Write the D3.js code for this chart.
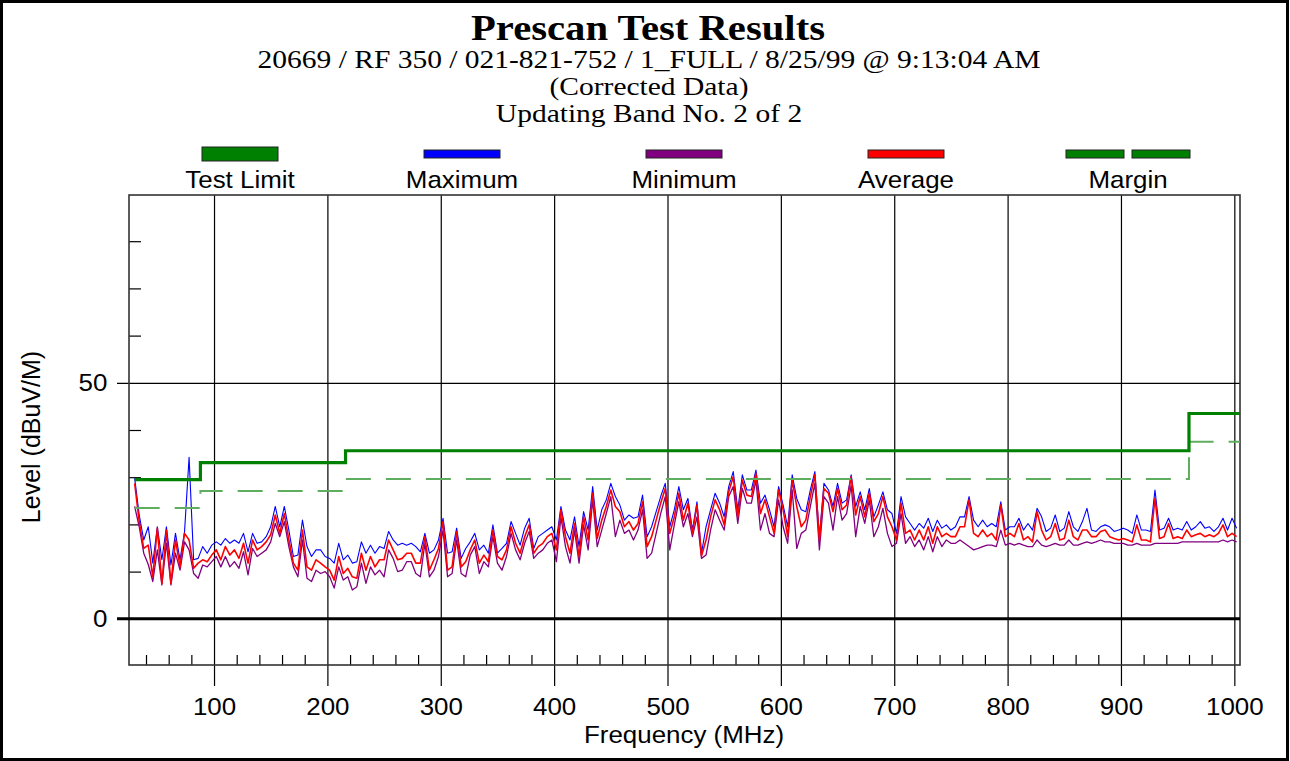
<!DOCTYPE html>
<html>
<head>
<meta charset="utf-8">
<script src="https://cdn.jsdelivr.net/npm/d3@7"></script>
<style>
  html, body { margin: 0; padding: 0; background: #fff; }
  svg { display: block; }
</style>
</head>
<body>
<svg id="chart" width="1290" height="761"></svg>
<script>
// ---------------- DATA ----------------
const titleText = "Prescan Test Results";
const subtitleLines = [
  "20669 / RF 350 / 021-821-752 / 1_FULL / 8/25/99 @ 9:13:04 AM",
  "(Corrected Data)",
  "Updating Band No. 2 of 2"
];
const legendNames = ["Test Limit", "Maximum", "Minimum", "Average", "Margin"];
const legendColors = ["#008000", "#0000ff", "#800080", "#ff0000", "#008000"];
const xTickLabels = [100, 200, 300, 400, 500, 600, 700, 800, 900, 1000];
const xMinorTicks = [40, 60, 80, 120, 140, 160, 180, 220, 240, 260, 280, 320, 340, 360, 380,
  420, 440, 460, 480, 520, 540, 560, 580, 620, 640, 660, 680, 720, 740, 760, 780,
  820, 840, 860, 880, 920, 940, 960, 980];
const yTickLabels = [0, 50];
const yMinorTicks = [10, 20, 30, 40, 60, 70, 80];
const xTitle = "Frequency (MHz)";
const yTitle = "Level (dBuV/M)";

// Limit (FCC class B @10 m) and margin (limit - 6 dB), step after each frequency
const limitFreq = [30, 88, 216, 960, 1005];
const limitVal = [29.5, 33.1, 35.6, 43.5, 43.5];
const marginVal = [23.5, 27.1, 29.6, 37.5, 37.5];

// Scan frequencies (MHz)
const freqs = [30,34,38,42,46,50,54,58,62,66,70,74,78,82,86,90,94,98,102,106,110,114,118,122,126,130,134,138,142,146,150,154,158,162,166,170,174,178,182,186,190,194,198,202,206,210,214,218,222,226,230,234,238,242,246,250,254,258,262,266,270,
274,278,282,286,290,294,298,302,306,310,314,318,322,326,330,334,338,342,346,350,354,358,362,366,370,374,378,382,386,390,394,398,402,406,410,414,418,422,426,430,434,438,442,446,450,454,458,462,466,470,474,478,482,486,490,494,498,502,506,510,514,
518,522,526,530,534,538,542,546,550,554,558,562,566,570,574,578,582,586,590,594,598,602,606,610,614,618,622,626,630,634,638,642,646,650,654,658,662,666,670,674,678,682,686,690,694,698,702,706,710,714,718,722,726,730,734,738,742,746,750,754,758,
762,766,770,774,778,782,786,790,794,798,802,806,810,814,818,822,826,830,834,838,842,846,850,854,858,862,866,870,874,878,882,886,890,894,898,902,906,910,914,918,922,926,930,934,938,942,946,950,954,958,962,966,970,974,978,982,986,990,994,998,1002];

// Maximum (dBuV/m)
const maxVals = [29.8,22.0,16.7,19.5,11.8,19.5,12.5,19.5,11.4,18.1,12.5,18.5,34.2,12.5,12.8,15.3,13.9,15.6,16.3,15.6,17.0,16.0,16.7,16.0,18.1,14.2,18.1,16.0,16.3,17.4,19.5,23.8,19.5,23.8,18.8,13.2,13.5,20.9,15.3,13.2,14.6,14.6,13.2,12.8,11.8,16.0,12.5,13.5,11.8,12.1,16.3,13.9,15.6,13.9,15.3,14.9,18.5,16.7,15.6,16.0,15.6,
16.0,15.3,14.2,18.1,13.9,14.6,16.7,21.3,13.9,14.2,19.2,12.8,14.9,16.3,18.1,14.6,15.6,13.9,19.9,13.9,14.9,16.0,20.6,18.1,15.6,19.2,21.3,14.9,17.4,18.1,18.8,19.5,16.7,23.8,18.8,16.7,21.6,15.3,22.7,18.8,28.0,18.8,23.1,25.2,28.7,25.9,24.1,20.9,22.0,21.3,21.6,26.2,17.4,19.5,22.7,25.9,28.7,19.5,23.1,28.0,23.1,
25.5,18.8,24.8,13.9,19.5,23.1,26.6,24.5,21.6,28.0,31.2,23.1,30.5,27.3,27.3,31.5,24.5,26.2,23.1,19.5,28.0,24.1,19.5,30.5,25.5,23.1,22.7,27.3,31.2,17.4,28.7,27.3,23.8,28.7,24.5,25.2,30.5,23.8,26.9,23.1,27.6,21.6,24.1,26.9,23.1,22.3,18.1,25.9,21.6,20.2,18.8,20.2,19.2,21.3,18.5,20.9,19.2,19.9,18.8,19.5,21.6,
21.6,25.9,20.9,19.5,20.9,19.5,20.2,19.5,24.8,18.8,19.5,19.5,21.3,18.8,20.2,18.8,23.4,21.6,18.5,19.2,22.0,18.5,19.2,22.7,19.5,18.5,20.6,23.4,18.8,18.5,19.5,19.9,19.5,18.5,18.8,19.2,18.8,18.1,22.0,18.8,18.8,18.5,27.3,18.8,19.2,21.3,18.8,19.2,18.8,20.6,18.8,19.5,20.6,19.2,19.5,18.5,19.5,21.3,18.8,21.3,19.2];

// Average (dBuV/m)
const avgVals = [28.7,20.6,14.9,15.6,8.9,19.2,7.5,18.8,7.5,16.7,11.0,18.1,16.7,10.7,11.8,12.5,12.1,13.5,14.6,12.5,15.3,13.5,14.6,12.8,16.0,11.8,16.7,14.6,15.3,16.3,17.8,22.0,18.1,22.3,16.7,11.8,10.3,18.8,11.0,10.3,12.5,11.8,11.0,10.3,8.2,13.2,9.6,10.7,8.9,8.6,13.9,10.3,13.2,11.0,12.5,12.5,16.7,14.6,12.5,12.8,13.9,
13.9,11.8,11.8,17.4,10.3,12.5,14.9,20.6,10.3,11.0,18.5,11.0,12.1,14.6,16.7,11.8,13.5,12.1,18.8,13.2,12.5,14.6,19.5,16.0,13.9,17.4,19.9,13.9,15.3,16.0,17.4,18.1,14.6,23.1,17.4,13.9,20.2,13.2,21.6,16.7,26.6,17.0,20.9,23.8,27.3,23.8,22.7,19.5,20.6,18.8,20.2,24.8,15.3,17.4,20.9,24.5,27.6,18.1,21.6,26.6,20.9,
24.5,18.1,24.1,13.3,16.7,21.6,25.2,23.1,19.9,26.9,30.1,21.6,29.4,26.2,25.9,30.8,22.3,25.2,21.6,18.1,27.3,23.1,17.4,29.4,23.8,19.5,20.9,25.9,30.5,16.7,27.6,26.6,22.7,27.6,23.1,24.1,30.1,22.0,25.9,21.6,26.6,20.6,22.3,25.9,21.6,19.5,16.7,24.5,18.1,18.8,16.7,18.8,16.7,19.5,16.0,19.5,17.4,18.1,17.4,17.4,19.5,
19.5,25.2,18.1,17.4,18.8,17.4,18.1,16.7,24.1,17.4,18.1,17.4,20.2,16.7,17.4,16.3,22.7,18.8,16.7,17.4,20.2,16.7,17.0,20.9,17.4,16.7,18.8,18.8,17.4,17.4,18.5,18.8,17.4,17.0,16.7,17.0,16.7,16.3,19.9,16.7,16.7,16.3,25.5,17.0,17.4,20.2,17.0,17.4,17.0,18.8,17.4,17.8,18.1,17.4,17.8,17.4,18.1,19.9,17.4,18.1,17.4];

// Minimum (dBuV/m)
const minVals = [23.8,19.5,13.9,11.5,7.9,14.6,7.2,16.0,7.2,13.9,10.3,16.3,14.6,9.6,8.6,11.4,11.0,12.1,13.2,11.0,13.2,11.0,12.1,10.7,14.2,9.3,14.9,13.2,13.9,14.6,16.3,20.2,17.4,20.6,15.3,11.0,8.9,16.7,8.6,7.9,10.3,9.6,10.0,8.9,6.5,11.0,8.2,8.9,6.1,6.8,11.8,7.5,11.0,9.3,10.3,8.9,14.6,12.8,10.0,10.3,12.1,
12.1,9.6,8.9,16.0,8.9,10.3,13.2,18.8,8.9,9.6,16.7,9.6,8.9,13.5,15.3,9.6,12.1,11.0,17.4,11.8,10.3,13.2,18.1,14.6,12.5,16.0,18.5,12.8,13.9,14.6,16.0,16.7,12.1,21.6,15.3,11.8,18.8,11.8,19.9,14.6,25.2,15.3,18.8,22.3,25.9,17.4,20.9,18.1,18.8,16.7,18.8,23.1,12.8,13.9,18.1,22.3,25.9,14.6,19.9,24.8,19.5,
22.3,17.4,21.6,12.8,13.5,18.8,23.1,20.9,18.8,25.9,28.0,20.2,27.6,24.5,24.5,29.4,18.8,22.3,18.1,17.4,25.2,19.5,16.0,27.3,14.9,18.1,18.8,23.8,28.7,14.6,25.9,24.5,18.8,25.9,20.9,22.3,28.3,17.4,23.8,20.2,25.2,17.4,19.5,23.4,18.1,15.3,16.0,22.3,16.0,17.4,15.3,16.7,14.6,17.4,14.2,17.4,15.3,16.7,16.0,16.0,16.7,
16.0,15.3,14.6,14.9,15.3,15.6,15.6,15.3,18.8,15.6,16.0,15.6,16.0,15.6,15.3,15.3,16.7,15.6,15.3,15.6,16.0,15.6,15.6,16.7,15.6,15.6,16.0,16.3,16.0,16.3,16.7,16.3,16.3,16.0,16.0,16.0,15.6,15.6,16.0,15.6,15.6,15.6,16.0,16.0,16.0,16.0,16.0,16.0,16.3,16.3,16.3,16.3,16.3,16.3,16.3,16.3,16.3,16.7,16.3,16.7,16.3];

// ---------------- DRAW ----------------
const svg = d3.select("#chart");
const W = 1290, H = 761;
const plot = { left: 129, right: 1240, top: 195, bottom: 665 };

const x = d3.scaleLinear().domain([25, 1005]).range([plot.left, plot.right]);
const y = d3.scaleLinear().domain([-10, 90]).range([666, 194]);

const serif = "'Liberation Serif', 'Times New Roman', serif";
const sans = "'Liberation Sans', Arial, sans-serif";
const sansStretch = 1.08;

svg.append("rect").attr("x", 0).attr("y", 0).attr("width", W).attr("height", H).attr("fill", "#fff");

// Outer border
svg.append("rect").attr("x", 1.5).attr("y", 1.5).attr("width", W - 4).attr("height", H - 3)
  .attr("fill", "none").attr("stroke", "#000").attr("stroke-width", 3);

// Titles (original output uses horizontally widened glyphs)
svg.append("text").attr("transform", "translate(648,40) scale(1.13,1)").attr("text-anchor", "middle")
  .attr("font-family", serif).attr("font-weight", "bold").attr("font-size", 36).text(titleText);
const subY = [68, 95, 122];
subtitleLines.forEach((t, i) => {
  svg.append("text").attr("transform", `translate(649,${subY[i]}) scale(1.18,1)`).attr("text-anchor", "middle")
    .attr("font-family", serif).attr("font-size", 25).text(t);
});

// Legend
const legendCx = [240, 462, 684, 906, 1128];
legendNames.forEach((name, i) => {
  const cx = legendCx[i];
  const g = svg.append("g");
  if (i === 0) {
    g.append("rect").attr("x", cx - 38).attr("y", 147).attr("width", 76).attr("height", 14)
      .attr("fill", legendColors[i]).attr("stroke", "#222").attr("stroke-width", 1);
  } else if (i === 4) {
    [-62, 4].forEach(dx => {
      g.append("rect").attr("x", cx + dx).attr("y", 150).attr("width", 58).attr("height", 8)
        .attr("fill", legendColors[i]).attr("stroke", "#222").attr("stroke-width", 1);
    });
  } else {
    g.append("rect").attr("x", cx - 38).attr("y", 150).attr("width", 76).attr("height", 8)
      .attr("fill", legendColors[i]).attr("stroke", "#222").attr("stroke-width", 1);
  }
  g.append("text").attr("transform", `translate(${cx},188) scale(${sansStretch},1)`).attr("text-anchor", "middle")
    .attr("font-family", sans).attr("font-size", 24).text(name);
});

// Vertical grid lines (from top frame down to the major tick ends)
svg.append("g").attr("transform", `translate(0,${plot.top})`)
  .call(d3.axisBottom(x).tickValues(xTickLabels).tickSize(686 - plot.top).tickFormat(""))
  .call(g => g.select(".domain").remove())
  .call(g => g.selectAll("line").attr("stroke", "#000").attr("stroke-width", 1.2));

// Horizontal grid at 50
svg.append("g").attr("transform", `translate(${plot.right},0)`)
  .call(d3.axisLeft(y).tickValues([50]).tickSize(plot.right - 117).tickFormat(""))
  .call(g => g.select(".domain").remove())
  .call(g => g.selectAll("line").attr("stroke", "#000").attr("stroke-width", 1.2));

// Minor x ticks (inside, from bottom frame upward)
svg.append("g").attr("transform", `translate(0,${plot.bottom})`)
  .call(d3.axisBottom(x).tickValues(xMinorTicks).tickSize(-10).tickFormat(""))
  .call(g => g.select(".domain").remove())
  .call(g => g.selectAll("line").attr("stroke", "#000").attr("stroke-width", 1.2));

// Minor y ticks (inside, from left frame rightward)
svg.append("g").attr("transform", `translate(${plot.left},0)`)
  .call(d3.axisLeft(y).tickValues(yMinorTicks).tickSize(-12).tickFormat(""))
  .call(g => g.select(".domain").remove())
  .call(g => g.selectAll("line").attr("stroke", "#000").attr("stroke-width", 1.2));

// Frame
svg.append("rect").attr("x", plot.left).attr("y", plot.top)
  .attr("width", plot.right - plot.left).attr("height", plot.bottom - plot.top)
  .attr("fill", "none").attr("stroke", "#333").attr("stroke-width", 1.6);

// X tick labels
const xAxis = svg.append("g").attr("transform", `translate(0,${plot.bottom})`)
  .call(d3.axisBottom(x).tickValues(xTickLabels).tickSize(0).tickPadding(33).tickFormat(d3.format("d")));
xAxis.select(".domain").remove();
xAxis.selectAll("text").attr("font-family", sans).attr("font-size", 24).attr("fill", "#000")
  .attr("transform", `scale(${sansStretch},1)`);

// Y tick labels
const yAxis = svg.append("g").attr("transform", `translate(${plot.left},0)`)
  .call(d3.axisLeft(y).tickValues(yTickLabels).tickSize(0).tickPadding(20).tickFormat(d3.format("d")));
yAxis.select(".domain").remove();
yAxis.selectAll("text").attr("font-family", sans).attr("font-size", 24).attr("fill", "#000")
  .attr("transform", `scale(${sansStretch},1)`);

// Axis titles
svg.append("text").attr("transform", `translate(684,743) scale(${sansStretch},1)`).attr("text-anchor", "middle")
  .attr("font-family", sans).attr("font-size", 24).text(xTitle);
svg.append("text").attr("transform", "translate(40,437) rotate(-90)").attr("text-anchor", "middle")
  .attr("font-family", sans).attr("font-size", 25).text(yTitle);

// Clip for data
svg.append("clipPath").attr("id", "clip").append("rect")
  .attr("x", plot.left).attr("y", plot.top).attr("width", plot.right - plot.left).attr("height", plot.bottom - plot.top);
const data = svg.append("g").attr("clip-path", "url(#clip)");

// Traces
const line = d3.line().x(d => x(d[0])).y(d => y(d[1]));
const series = [
  { vals: maxVals, color: "#0000ff", w: 1.1 },
  { vals: minVals, color: "#800080", w: 1.3 },
  { vals: avgVals, color: "#ff0000", w: 1.6 }
];
series.forEach(s => {
  data.append("path").datum(freqs.map((f, i) => [f, s.vals[i]]))
    .attr("d", line).attr("fill", "none").attr("stroke", s.color)
    .attr("stroke-width", s.w).attr("stroke-linejoin", "round");
});

// Margin (dashed) and limit
const stepLine = d3.line().x(d => x(d[0])).y(d => y(d[1])).curve(d3.curveStepAfter);
data.append("path").datum(limitFreq.map((f, i) => [f, marginVal[i]]))
  .attr("d", stepLine).attr("fill", "none").attr("stroke", "#5fae5f")
  .attr("stroke-width", 2).attr("stroke-dasharray", "25,15");
data.append("path").datum(limitFreq.map((f, i) => [f, limitVal[i]]))
  .attr("d", stepLine).attr("fill", "none").attr("stroke", "#008000")
  .attr("stroke-width", 3.2);

// Zero line
svg.append("line").attr("x1", 117).attr("x2", plot.right).attr("y1", y(0)).attr("y2", y(0))
  .attr("stroke", "#000").attr("stroke-width", 3);
</script>
</body>
</html>
